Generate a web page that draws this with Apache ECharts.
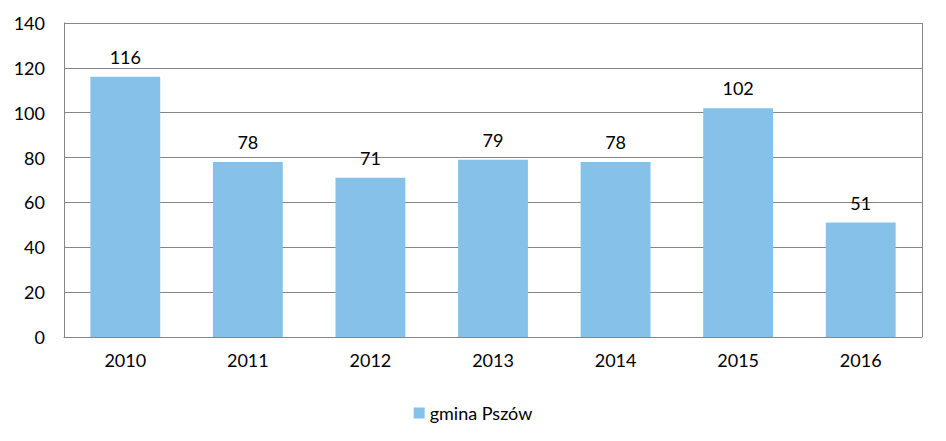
<!DOCTYPE html>
<html>
<head>
<meta charset="utf-8">
<script src="https://cdn.jsdelivr.net/npm/echarts@6/dist/echarts.min.js"></script>
<style>
html,body{margin:0;padding:0;background:#fff;}
#c{width:946px;height:441px;}
</style>
</head>
<body>
<div id="c"></div>
<script>
const categories = ['2010','2011','2012','2013','2014','2015','2016'];
const values = [116, 78, 71, 79, 78, 102, 51];
const seriesName = 'gmina Pszów';
const yTicks = [0, 20, 40, 60, 80, 100, 120, 140];

const FONT = 'Lato, "Open Sans", sans-serif';
const FS = 18;
const chart = echarts.init(document.getElementById('c'), null, {renderer: 'svg'});
chart.setOption({
  animation: false,
  textStyle: {fontFamily: FONT},
  grid: {left: 64, right: 24, top: 23, bottom: 104, containLabel: false},
  legend: {
    top: 399,
    left: 'center',
    itemWidth: 11,
    itemHeight: 11,
    itemGap: 10,
    icon: 'rect',
    textStyle: {fontFamily: FONT, fontSize: FS, color: '#000', padding: [0, 0, 0, 0]},
    data: [seriesName]
  },
  xAxis: {
    type: 'category',
    data: categories,
    axisLine: {show: true, lineStyle: {color: '#868686', width: 1}},
    axisTick: {show: false},
    axisLabel: {fontFamily: FONT, fontSize: FS, color: '#000', margin: 14}
  },
  yAxis: {
    type: 'value',
    min: yTicks[0],
    max: yTicks[yTicks.length - 1],
    interval: 20,
    axisLine: {show: true, lineStyle: {color: '#868686', width: 1}},
    axisTick: {show: false},
    axisLabel: {fontFamily: FONT, fontSize: FS, color: '#000', margin: 19},
    splitLine: {show: true, lineStyle: {color: '#868686', width: 1}}
  },
  series: [{
    name: seriesName,
    type: 'bar',
    data: values,
    barWidth: '57%',
    itemStyle: {color: '#85C1E9'},
    label: {show: true, position: 'top', distance: 11, fontFamily: FONT, fontSize: FS, color: '#000'}
  }],
  graphic: [{
    type: 'line',
    shape: {x1: 922.5, y1: 23, x2: 922.5, y2: 337},
    style: {stroke: '#868686', lineWidth: 1}
  }]
});
</script>
</body>
</html>
